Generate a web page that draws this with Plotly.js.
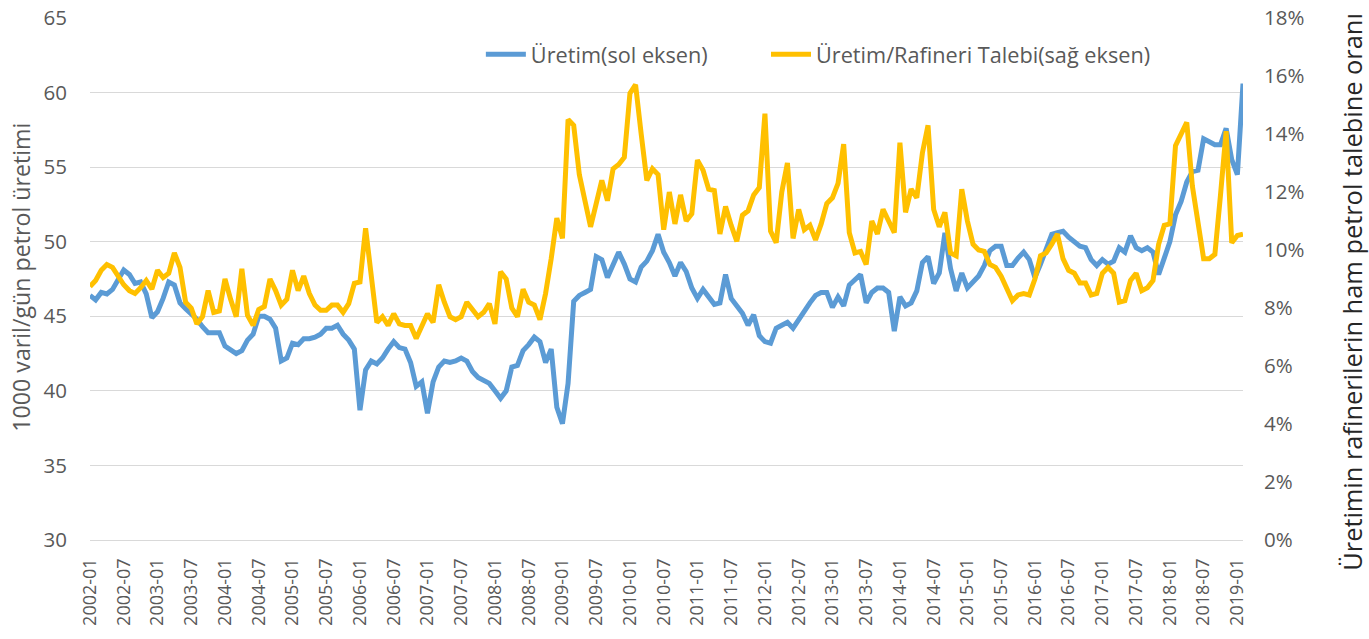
<!DOCTYPE html>
<html>
<head>
<meta charset="utf-8">
<script src="https://cdn.plot.ly/plotly-3.0.1.min.js"></script>
<style>
  html, body { margin: 0; padding: 0; background: #ffffff; }
  #chart { width: 1369px; height: 639px; }
</style>
</head>
<body>
<div id="chart"></div>
<script>
// Monthly categories 2002-01 .. 2019-02
const startYear = 2002;
const monthCount = 206;
const months = [];
for (let k = 0; k < monthCount; k++) {
  const y = startYear + Math.floor(k / 12);
  const m = (k % 12) + 1;
  months.push(y + '-' + (m < 10 ? '0' + m : '' + m));
}

// Tick labels shown on the x axis (every 6 months)
const tickLabels = [
  '2002-01','2002-07','2003-01','2003-07','2004-01','2004-07','2005-01','2005-07',
  '2006-01','2006-07','2007-01','2007-07','2008-01','2008-07','2009-01','2009-07',
  '2010-01','2010-07','2011-01','2011-07','2012-01','2012-07','2013-01','2013-07',
  '2014-01','2014-07','2015-01','2015-07','2016-01','2016-07','2017-01','2017-07',
  '2018-01','2018-07','2019-01'
];

// Üretim (sol eksen), 1000 varil/gün
const production = [
  46.4, 46.1, 46.6, 46.5, 46.8, 47.5, 48.1, 47.8, 47.2, 47.3,
  46.5, 44.9, 45.3, 46.2, 47.3, 47.1, 45.9, 45.5, 45.2, 44.8,
  44.3, 43.9, 43.9, 43.9, 43.0, 42.7, 42.5, 42.7, 43.4, 43.8,
  45.0, 45.0, 44.8, 44.2, 42.0, 42.2, 43.2, 43.1, 43.5, 43.5,
  43.6, 43.8, 44.2, 44.2, 44.4, 43.8, 43.4, 42.8, 38.7, 41.4,
  42.0, 41.8, 42.2, 42.8, 43.3, 42.9, 42.8, 41.9, 40.3, 40.6,
  38.5, 40.6, 41.6, 42.0, 41.9, 42.0, 42.2, 42.0, 41.3, 40.9,
  40.7, 40.5, 40.0, 39.5, 40.0, 41.6, 41.7, 42.7, 43.1, 43.6,
  43.3, 41.9, 42.8, 38.9, 37.8, 40.5, 46.0, 46.4, 46.6, 46.8,
  49.0, 48.8, 47.6, 48.4, 49.3, 48.5, 47.5, 47.3, 48.3, 48.7,
  49.4, 50.5, 49.3, 48.6, 47.7, 48.6, 48.0, 46.9, 46.2, 46.8,
  46.3, 45.8, 45.9, 47.8, 46.2, 45.7, 45.2, 44.4, 45.1, 43.7,
  43.3, 43.2, 44.2, 44.4, 44.6, 44.2, 44.8, 45.4, 45.9, 46.4,
  46.6, 46.6, 45.6, 46.3, 45.7, 47.1, 47.4, 47.8, 45.9, 46.6,
  46.9, 46.9, 46.6, 44.0, 46.3, 45.7, 45.9, 46.7, 48.6, 49.0,
  47.2, 47.9, 50.6, 48.2, 46.7, 47.9, 46.9, 47.3, 47.7, 48.4,
  49.4, 49.7, 49.7, 48.4, 48.4, 48.9, 49.3, 48.8, 47.6, 48.5,
  49.5, 50.5, 50.6, 50.7, 50.3, 50.0, 49.7, 49.6, 48.8, 48.4,
  48.8, 48.5, 48.7, 49.6, 49.3, 50.4, 49.6, 49.4, 49.6, 49.3,
  47.8, 48.9, 50.0, 51.8, 52.7, 54.0, 54.7, 54.8, 56.9, 56.7,
  56.5, 56.5, 57.6, 55.5, 54.5, 60.6
];

// Üretim/Rafineri Talebi (sağ eksen), %
const ratio = [
  8.74, 8.95, 9.3, 9.5, 9.4, 9.1, 8.8, 8.6, 8.5, 8.7,
  8.95, 8.65, 9.3, 9.05, 9.2, 9.9, 9.4, 8.2, 8.0, 7.45,
  7.7, 8.6, 7.85, 7.9, 9.0, 8.3, 7.7, 9.35, 7.75, 7.4,
  7.95, 8.05, 9.0, 8.6, 8.1, 8.3, 9.3, 8.6, 9.1, 8.5,
  8.1, 7.92, 7.92, 8.1, 8.1, 7.85, 8.15, 8.85, 8.9, 10.75,
  9.2, 7.5, 7.7, 7.4, 7.8, 7.45, 7.4, 7.4, 6.95, 7.4,
  7.8, 7.5, 8.8, 8.2, 7.7, 7.6, 7.7, 8.2, 7.95, 7.7,
  7.85, 8.15, 7.45, 9.25, 9.0, 8.0, 7.7, 8.65, 8.2, 8.1,
  7.6, 8.5, 9.7, 11.1, 10.4, 14.5, 14.3, 12.6, 11.7, 10.8,
  11.6, 12.4, 11.7, 12.8, 12.95, 13.2, 15.4, 15.7, 14.0, 12.4,
  12.8, 12.6, 10.7, 12.0, 10.9, 11.9, 11.0, 11.25, 13.1, 12.75,
  12.1, 12.05, 10.55, 11.5, 10.85, 10.3, 11.2, 11.35, 11.9, 12.15,
  14.7, 10.65, 10.25, 12.0, 13.0, 10.4, 11.4, 10.7, 10.85, 10.35,
  10.9, 11.6, 11.8, 12.3, 13.65, 10.6, 9.9, 9.95, 9.5, 11.0,
  10.55, 11.4, 11.0, 10.6, 13.7, 11.3, 12.1, 11.8, 13.35, 14.3,
  11.4, 10.8, 11.3, 9.9, 9.8, 12.1, 11.0, 10.2, 10.0, 9.95,
  9.5, 9.4, 9.1, 8.65, 8.25, 8.45, 8.5, 8.45, 9.0, 9.8,
  9.9, 10.2, 10.55, 9.7, 9.3, 9.2, 8.86, 8.86, 8.45, 8.5,
  9.2, 9.4, 9.2, 8.2, 8.25, 8.95, 9.2, 8.6, 8.7, 8.95,
  10.2, 10.85, 10.9, 13.6, 14.0, 14.4, 12.2, 11.0, 9.7, 9.7,
  9.85, 11.9, 14.1, 10.25, 10.5, 10.55
];

const seriesNames = ['Üretim(sol eksen)', 'Üretim/Rafineri Talebi(sağ eksen)'];
const leftTitle = '1000 varil/gün petrol üretimi';
const rightTitle = 'Üretimin rafinerilerin ham petrol talebine oranı';

const FONT = '"Open Sans", "Noto Sans", sans-serif';
const GRAY = '#595959';

const traces = [
  {
    x: months, y: production, name: seriesNames[0],
    type: 'scatter', mode: 'lines',
    line: { color: '#5B9BD5', width: 5, shape: 'linear' },
    yaxis: 'y', legend: 'legend', hoverinfo: 'x+y'
  },
  {
    x: months, y: ratio, name: seriesNames[1],
    type: 'scatter', mode: 'lines',
    line: { color: '#FFC000', width: 5, shape: 'linear' },
    yaxis: 'y2', legend: 'legend2', hoverinfo: 'x+y'
  }
];

const legendStyle = {
  orientation: 'h',
  y: 0.93, yanchor: 'middle', xanchor: 'left',
  font: { family: FONT, size: 21.7, color: GRAY },
  bgcolor: 'rgba(0,0,0,0)',
  itemwidth: 40
};

// paper-coordinate helper for the plot area (top 18px, bottom 540.5px)
function yPaper(py) { return (540.5 - py) / 522.5; }

const layout = {
  width: 1369, height: 639,
  paper_bgcolor: '#ffffff', plot_bgcolor: '#ffffff',
  margin: { l: 90, r: 126, t: 18, b: 99, pad: 0 },
  font: { family: FONT, color: GRAY, size: 18 },
  showlegend: true,
  legend: Object.assign({}, legendStyle, { x: 0.339 }),
  legend2: Object.assign({}, legendStyle, { x: 0.5863 }),
  xaxis: {
    type: 'category',
    range: [0, monthCount - 1],
    tickmode: 'array',
    tickvals: tickLabels,
    ticktext: tickLabels,
    tickangle: -90,
    tickfont: { family: FONT, size: 18, color: GRAY },
    ticks: 'outside', ticklen: 10, tickcolor: 'rgba(0,0,0,0)',
    showgrid: false,
    showline: true, linecolor: '#d9d9d9', linewidth: 1.3,
    zeroline: false,
    automargin: false
  },
  yaxis: {
    range: [30, 65],
    tickmode: 'linear', tick0: 30, dtick: 5,
    tickfont: { family: FONT, size: 20.5, color: GRAY },
    ticks: 'outside', ticklen: 18, tickcolor: 'rgba(0,0,0,0)',
    showgrid: true, gridcolor: '#d9d9d9', gridwidth: 1.3,
    zeroline: false, showline: false,
    automargin: false
  },
  yaxis2: {
    overlaying: 'y', side: 'right',
    range: [0, 18],
    tickmode: 'linear', tick0: 0, dtick: 2,
    ticksuffix: '%',
    tickfont: { family: FONT, size: 20.5, color: GRAY },
    ticks: 'outside', ticklen: 16, tickcolor: 'rgba(0,0,0,0)',
    showgrid: false, zeroline: false, showline: false,
    automargin: false
  },
  annotations: [
    {
      text: leftTitle, textangle: -90, showarrow: false,
      xref: 'paper', yref: 'paper', x: 0, y: yPaper(278),
      xanchor: 'center', yanchor: 'middle', xshift: -69,
      font: { family: FONT, size: 23.2, color: GRAY }
    },
    {
      text: rightTitle, textangle: -90, showarrow: false,
      xref: 'paper', yref: 'paper', x: 1, y: yPaper(292),
      xanchor: 'center', yanchor: 'middle', xshift: 109,
      font: { family: FONT, size: 25.4, color: '#262626' }
    }
  ]
};

Plotly.newPlot('chart', traces, layout, { displayModeBar: false });
</script>
</body>
</html>
